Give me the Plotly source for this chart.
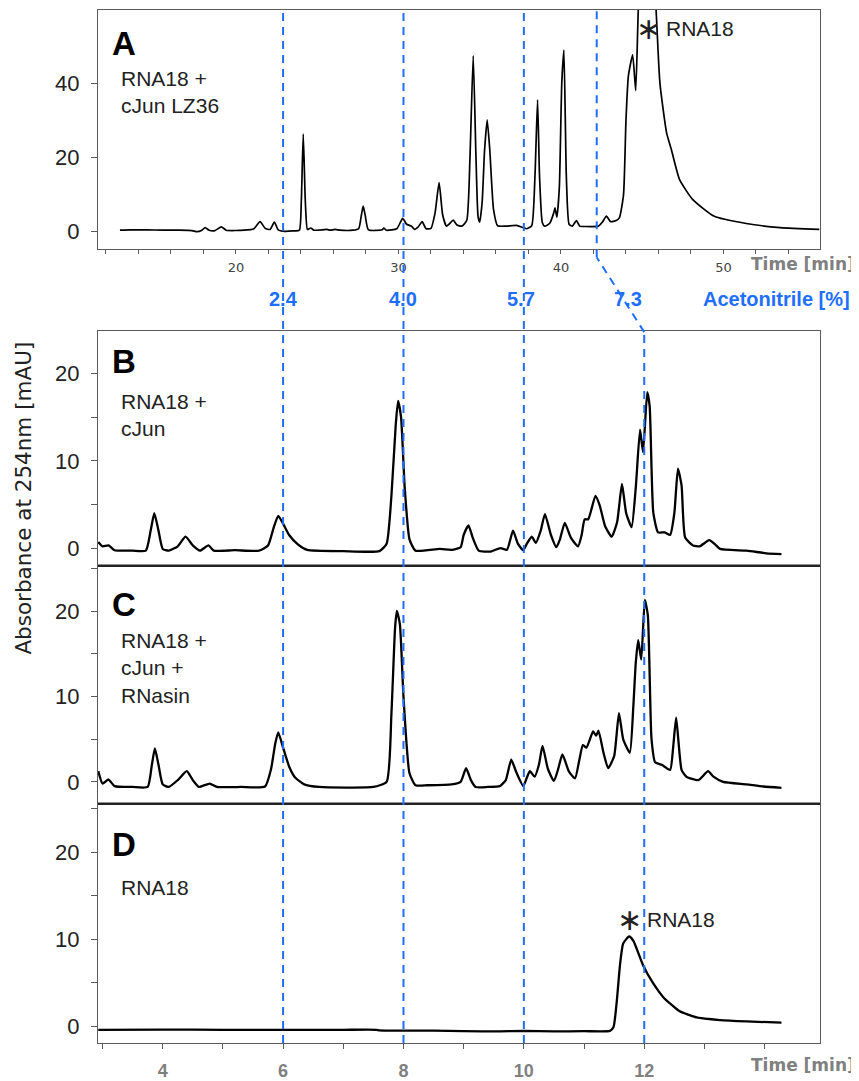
import plotly.graph_objects as go

# ---------------- data ----------------
# Panel A: RNA18 + cJun LZ36 (time in min, absorbance in mAU)
a_time = [12.86, 13.5, 14.5, 15.5, 16.5, 17.3, 17.6, 17.9, 18.1, 18.35, 18.7, 19.1, 19.4, 20.5, 21.1,
          21.48, 21.8, 22.1, 22.36, 22.6, 23.0, 23.5, 23.9, 24.02, 24.14, 24.27, 24.4, 24.6, 24.8,
          25.6, 25.8, 26.1, 26.4, 27.2, 27.55, 27.72, 27.83, 27.95, 28.15, 29.0, 29.1, 29.25, 29.9,
          30.26, 30.5, 30.8, 31.0, 31.2, 31.46, 31.7, 32.0, 32.25, 32.5, 32.72, 32.95, 33.15, 33.37,
          33.6, 33.9, 34.2, 34.4, 34.6, 34.77, 34.9, 35.0, 35.15, 35.3, 35.46, 35.62, 35.85, 36.1,
          36.6, 37.27, 37.6, 37.9, 38.2, 38.4, 38.56, 38.68, 38.85, 39.0, 39.3, 39.55, 39.63, 39.75,
          39.9, 40.05, 40.18, 40.33, 40.5, 40.7, 40.95, 41.15, 41.5, 42.3, 42.55, 42.8, 43.05, 43.4,
          43.6, 43.85, 44.0, 44.15, 44.41, 44.6, 44.76, 45.0, 45.3, 45.6, 45.85, 46.09, 46.5, 46.8,
          47.3, 48.1, 49.4, 51.4, 53.5, 55.9]
a_abs = [0.4, 0.5, 0.5, 0.4, 0.4, 0.3, 0.0, 0.4, 1.1, 0.4, 0.3, 1.3, 0.4, 0.4, 0.8,
         2.7, 0.9, 0.6, 2.6, 0.5, 0.1, 0.2, 0.4, 8.0, 26.3, 8.0, 0.6, 1.0, 0.4,
         0.6, 0.4, 0.6, 0.4, 0.4, 0.8, 4.5, 6.9, 4.5, 0.5, 0.5, 1.0, 0.4, 0.8,
         3.6, 2.0, 1.5, 0.6, 1.2, 2.7, 0.8, 0.9, 5.0, 13.2, 4.5, 1.5, 2.2, 3.1,
         1.8, 1.5, 3.0, 20.0, 47.4, 20.0, 4.0, 2.6, 8.0, 22.0, 30.1, 22.0, 6.0, 1.6,
         1.5, 1.7, 1.2, 0.8, 1.6, 15.0, 35.5, 15.0, 2.5, 1.5, 2.2, 5.0, 6.4, 3.9,
         12.0, 40.0, 48.9, 15.0, 2.0, 1.5, 3.0, 1.5, 1.4, 1.5, 2.6, 4.2, 2.7, 3.0,
         3.8, 10.0, 30.0, 42.0, 47.6, 38.0, 60.0, 78.0, 85.0, 78.0, 60.0, 40.0, 26.6, 22.0,
         14.0, 8.7, 4.2, 2.2, 1.1, 0.6]

# Panel B: RNA18 + cJun
b_time = [2.93, 3.0, 3.1, 3.2, 3.5, 3.72, 3.8, 3.86, 3.93, 4.0, 4.1, 4.25, 4.38, 4.5, 4.62,
          4.76, 4.85, 5.2, 5.6, 5.75, 5.85, 5.92, 6.0, 6.1, 6.25, 6.4, 7.0, 7.6, 7.72, 7.8,
          7.87, 7.91, 7.96, 8.02, 8.1, 8.2, 8.6, 8.8, 8.95, 9.0, 9.08, 9.15, 9.25, 9.45, 9.61,
          9.72, 9.82, 9.9, 9.99, 10.05, 10.13, 10.2, 10.28, 10.35, 10.45, 10.54, 10.6, 10.68,
          10.78, 10.9, 10.96, 11.01, 11.07, 11.19, 11.26, 11.35, 11.46, 11.55, 11.63, 11.7,
          11.79, 11.86, 11.93, 11.98, 12.05, 12.09, 12.15, 12.23, 12.34, 12.43, 12.5, 12.56,
          12.62, 12.68, 12.81, 12.92, 13.08, 13.18, 13.26, 13.7, 14.03, 14.28]
b_abs = [0.7, 0.2, 0.3, -0.25, -0.3, -0.3, 2.0, 4.0, 2.0, -0.1, -0.3, 0.2, 1.3, 0.3, -0.3,
         0.3, -0.3, -0.25, -0.3, 0.3, 2.5, 3.7, 2.8, 1.5, 0.4, -0.2, -0.35, -0.35, 0.5, 6.0,
         14.0, 16.9, 15.0, 7.0, 1.0, -0.3, -0.1, -0.2, 0.1, 1.5, 2.6, 1.2, -0.3, -0.4, 0.0,
         -0.2, 2.0, 0.5, -0.25, 0.5, 1.3, 0.6, 2.0, 3.9, 1.5, 0.1, 1.0, 2.9,
         1.2, 0.2, 1.5, 3.3, 3.3, 6.0, 4.9, 2.5, 1.3, 3.0, 7.35, 4.0,
         2.4, 7.0, 13.6, 11.0, 17.9, 16.3, 4.1, 1.8, 1.8, 1.5, 4.0, 9.1,
         7.2, 1.2, 0.3, 0.2, 0.9, 0.4, -0.1, -0.3, -0.6, -0.7]

# Panel C: RNA18 + cJun + RNasin
c_time = [2.93, 3.0, 3.1, 3.2, 3.5, 3.75, 3.82, 3.87, 3.93, 4.0, 4.1, 4.25, 4.4, 4.5, 4.6,
          4.78, 4.9, 5.3, 5.7, 5.8, 5.87, 5.92, 6.0, 6.1, 6.2, 6.35, 6.6, 7.5, 7.72, 7.8,
          7.86, 7.89, 7.94, 8.0, 8.1, 8.2, 8.4, 8.8, 8.95, 9.04, 9.12, 9.2, 9.4, 9.6, 9.7,
          9.79, 9.87, 9.99, 10.05, 10.1, 10.18, 10.25, 10.31, 10.4, 10.5, 10.57, 10.64, 10.75,
          10.85, 10.92, 10.98, 11.04, 11.15, 11.2, 11.24, 11.32, 11.4, 11.5, 11.58, 11.65,
          11.76, 11.82, 11.86, 11.9, 11.95, 12.01, 12.06, 12.12, 12.18, 12.29, 12.43, 12.48,
          12.53, 12.62, 12.7, 12.9, 13.06, 13.15, 13.31, 13.7, 13.98, 14.28]
c_abs = [1.25, -0.2, 0.27, -0.5, -0.6, -0.6, 2.0, 3.9, 2.0, -0.3, -0.6, 0.2, 1.25, 0.2, -0.6,
         -0.2, -0.6, -0.6, -0.55, 1.5, 4.5, 5.8, 4.0, 1.8, 0.5, -0.3, -0.6, -0.6, 0.0, 8.0,
         18.0, 20.0, 18.5, 10.0, 1.0, -0.4, -0.4, -0.3, 0.0, 1.6, 0.2, -0.6, -0.6, -0.5, 0.2,
         2.6, 1.2, -0.5, 0.5, 1.25, 0.6, 2.0, 4.2, 1.5, 0.1, 1.5, 3.2, 1.2,
         0.4, 2.5, 4.3, 4.0, 5.9, 5.4, 6.0, 3.5, 1.6, 3.0, 8.05, 5.0,
         3.4, 9.0, 14.0, 16.6, 14.3, 21.3, 19.5, 5.1, 2.3, 2.0, 1.4, 4.0,
         7.5, 1.4, 0.6, 0.2, 1.25, 0.6, 0.0, -0.3, -0.55, -0.7]

# Panel D: RNA18
d_time = [2.93, 4.0, 5.0, 6.0, 7.0, 7.55, 7.6, 8.5, 9.0, 9.6, 10.0, 10.5, 11.0, 11.43, 11.49,
          11.54, 11.6, 11.65, 11.75, 11.82, 11.98, 12.15, 12.32, 12.59, 12.87, 13.26, 13.7, 14.28]
d_abs = [-0.42, -0.4, -0.42, -0.42, -0.42, -0.42, -0.5, -0.52, -0.58, -0.6, -0.55, -0.6, -0.58,
         -0.55, -0.1, 2.6, 7.2, 9.5, 10.3, 9.8, 7.0, 4.9, 3.3, 1.7, 1.0, 0.7, 0.54, 0.4]

# gradient markers
gradient_time_bd = [6, 8, 10, 12]          # min, panels B-D time axis
gradient_time_a_last = 42.2                # min, panel A time axis (kinked line)
acetonitrile_labels = ["2.4", "4.0", "5.7", "7.3"]

bottom_tickvals = [4, 6, 8, 10, 12]
a_tickvals = [20, 30, 40, 50]

a_xrange = [11.51, 55.94]
a_yrange = [-4.56, 59.7]
bd_xrange = [2.925, 14.92]
b_yrange = [-2.03, 24.9]
c_yrange = [-2.57, 25.3]
d_yrange = [-1.95, 25.55]

# ---------------- layout helpers (window pixel -> paper) ----------------
# the page body keeps its default 8px margin, so the figure is drawn 8px in
OFF = 8
FW, FH = 859 - OFF, 1081 - OFF


def fx(p):
    return (p - OFF) / FW


def fy(p):
    return 1 - (p - OFF) / FH


X0, X1 = 98, 820
BLUE = '#1f6fff'
FONT = 'Liberation Sans, Arial, sans-serif'
DEJA = 'DejaVu Sans, sans-serif'
GRAY = '#5a5a5a'

fig = go.Figure()
line_bd = dict(color='black', width=2.3, shape='spline', smoothing=0.5)
fig.add_trace(go.Scatter(x=a_time, y=a_abs, xaxis='x', yaxis='y', mode='lines',
                         line=dict(color='black', width=1.7, shape='spline', smoothing=0.5)))
fig.add_trace(go.Scatter(x=b_time, y=b_abs, xaxis='x2', yaxis='y2', mode='lines', line=line_bd))
fig.add_trace(go.Scatter(x=c_time, y=c_abs, xaxis='x3', yaxis='y3', mode='lines', line=line_bd))
fig.add_trace(go.Scatter(x=d_time, y=d_abs, xaxis='x4', yaxis='y4', mode='lines', line=line_bd))

common_y = dict(showline=True, mirror=True, linecolor=GRAY, linewidth=1.2, ticks='outside',
                ticklen=6, tickcolor=GRAY, tickfont=dict(family=FONT, size=22, color='#222'),
                showgrid=False, zeroline=False, ticklabelstandoff=7)
minor_y = dict(dtick=5, ticks='outside', ticklen=6, tickcolor=GRAY)

fig.update_layout(
    width=FW, height=FH, margin=dict(l=0, r=0, t=0, b=0),
    paper_bgcolor='white', plot_bgcolor='white', showlegend=False,
    xaxis=dict(domain=[fx(X0), fx(X1)], range=a_xrange, anchor='y', showline=True, mirror=True,
               linecolor=GRAY, linewidth=1.2, ticks='outside', ticklen=4, tickcolor=GRAY,
               tickmode='array', tickvals=a_tickvals,
               minor=dict(dtick=2, tick0=0, ticks='outside', ticklen=4, tickcolor=GRAY),
               tickfont=dict(family=DEJA, size=13, color='#444'),
               showgrid=False, zeroline=False, ticklabelstandoff=3),
    yaxis=dict(domain=[fy(249.3), fy(10)], range=a_yrange, anchor='x', dtick=20, **common_y),
    xaxis2=dict(domain=[fx(X0), fx(X1)], range=bd_xrange, anchor='y2', showline=True, mirror=True,
                linecolor=GRAY, linewidth=1.2, showticklabels=False, ticks='', showgrid=False,
                zeroline=False),
    yaxis2=dict(domain=[fy(567.3), fy(332)], range=b_yrange, anchor='x2', dtick=10,
                minor=minor_y, **common_y),
    xaxis3=dict(domain=[fx(X0), fx(X1)], range=bd_xrange, anchor='y3', showline=False,
                showticklabels=False, ticks='', showgrid=False, zeroline=False),
    yaxis3=dict(domain=[fy(806), fy(567.3)], range=c_yrange, anchor='x3', dtick=10,
                minor=minor_y, **common_y),
    xaxis4=dict(domain=[fx(X0), fx(X1)], range=bd_xrange, anchor='y4', showline=True, mirror=True,
                linecolor=GRAY, linewidth=1.2, ticks='outside', ticklen=5, tickcolor=GRAY,
                tickmode='array', tickvals=bottom_tickvals,
                minor=dict(dtick=1, tick0=0, ticks='outside', ticklen=5, tickcolor=GRAY),
                tickfont=dict(family=FONT, size=18, color='#808080', weight='bold'),
                showgrid=False, zeroline=False, ticklabelstandoff=6),
    yaxis4=dict(domain=[fy(1046), fy(806)], range=d_yrange, anchor='x4', dtick=10,
                minor=minor_y, **common_y),
)

shapes = []
# panel separators
for yp in (567.3, 806):
    shapes.append(dict(type='line', xref='paper', yref='paper', x0=fx(X0), x1=fx(X1),
                       y0=fy(yp), y1=fy(yp), line=dict(color='#222', width=2.6)))

dash = dict(color=BLUE, width=2, dash='8px,6px')
for t in gradient_time_bd[:3]:
    shapes.append(dict(type='line', xref='x4', yref='paper', x0=t, x1=t,
                       y0=fy(1046), y1=fy(10), line=dash))
# kinked last gradient line
t_last = gradient_time_bd[3]
t_last_in_bd = bd_xrange[0] + (gradient_time_a_last - a_xrange[0]) / (a_xrange[1] - a_xrange[0]) * (bd_xrange[1] - bd_xrange[0])
shapes.append(dict(type='line', xref='x4', yref='paper', x0=t_last, x1=t_last,
                   y0=fy(1046), y1=fy(333), line=dash))
shapes.append(dict(type='line', xref='x4', yref='paper', x0=t_last, x1=t_last_in_bd,
                   y0=fy(333), y1=fy(258), line=dash))
shapes.append(dict(type='line', xref='x', yref='paper', x0=gradient_time_a_last,
                   x1=gradient_time_a_last, y0=fy(258), y1=fy(10), line=dash))
fig.update_layout(shapes=shapes)

ann = []


def text(x, y, s, size=20, color='#222', bold=False, xanchor='left', family=FONT, angle=0):
    ann.append(dict(x=fx(x), y=fy(y), xref='paper', yref='paper', text=s, showarrow=False,
                    xanchor=xanchor, yanchor='middle', align='left', textangle=angle,
                    font=dict(family=family, size=size, color=color,
                              weight='bold' if bold else 'normal')))


# panel letters and sample names
text(110, 44, 'A', size=33, color='black', bold=True)
text(119, 92, 'RNA18 +<br>cJun LZ36', size=21)
text(110, 362, 'B', size=33, color='black', bold=True)
text(119, 416, 'RNA18 +<br>cJun', size=21)
text(110, 606, 'C', size=33, color='black', bold=True)
text(119, 670, 'RNA18 +<br>cJun +<br>RNasin', size=21)
text(110, 847, 'D', size=33, color='black', bold=True)
text(119, 890, 'RNA18', size=21)

# RNA18 markers
text(648, 29, '∗', size=30, color='#222', xanchor='center', family=DEJA)
text(664, 29, 'RNA18', size=21)
text(629, 922, '∗', size=30, color='#222', xanchor='center', family=DEJA)
text(645, 922, 'RNA18', size=21)

# axis titles
text(857, 265, 'Time [min]', size=17, color='#808080', bold=True, xanchor='right', family=DEJA)
text(857, 1068, 'Time [min]', size=17, color='#808080', bold=True, xanchor='right', family=DEJA)
text(24, 500, 'Absorbance at 254nm [mAU]', size=21.5, color='#222', xanchor='center',
     family=DEJA, angle=-90)

# acetonitrile gradient labels
label_px = [283, 403, 521, 628]
for lp, s in zip(label_px, acetonitrile_labels):
    text(lp, 300, s, size=20, color=BLUE, bold=True, xanchor='center')
text(852, 300, 'Acetonitrile [%]', size=20, color=BLUE, bold=True, xanchor='right')

fig.update_layout(annotations=ann)
fig.write_html('out.html')
